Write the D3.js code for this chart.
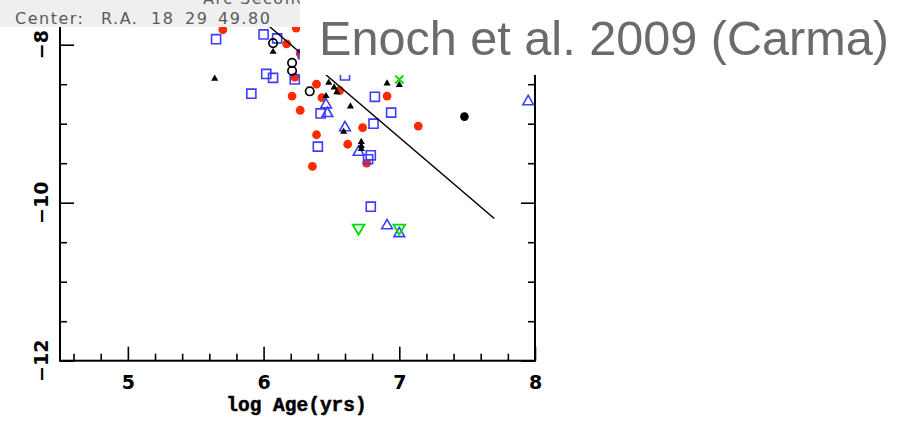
<!DOCTYPE html>
<html>
<head>
<meta charset="utf-8">
<script src="https://cdn.jsdelivr.net/npm/d3@7"></script>
<style>
  body { margin: 0; background: #fff; }
  svg { display: block; }
</style>
</head>
<body>
<svg id="chart" width="905" height="427"></svg>
<script>
// Sources plotted as [log Age (yr), value], one array per symbol class
const redDots = [
  [5.70, -7.81], [6.24, -7.79], [6.17, -7.99], [6.27, -8.11], [6.39, -8.50],
  [6.23, -8.41], [6.21, -8.65], [6.27, -8.83], [6.56, -8.58], [6.43, -8.67],
  [6.91, -8.65], [6.73, -9.05], [7.14, -9.03], [6.39, -9.14], [6.62, -9.26],
  [6.76, -9.50], [6.36, -9.54]
];
const blueSquares = [
  [5.65, -7.93], [6.00, -7.87], [6.10, -7.92], [6.02, -8.37], [6.07, -8.42],
  [6.23, -8.44], [5.91, -8.62], [6.42, -8.87], [6.60, -8.39], [6.82, -8.66],
  [6.94, -8.86], [6.81, -9.00], [6.40, -9.29], [6.79, -9.40], [6.77, -9.45],
  [6.79, -10.05], [6.29, -8.12]
];
const blueTriangles = [
  [6.46, -8.76], [6.47, -8.87], [6.60, -9.05], [6.70, -9.36], [6.91, -10.29],
  [7.00, -10.39], [7.95, -8.72]
];
const blackCircles = [
  [6.07, -7.98], [6.21, -8.23], [6.21, -8.33], [6.34, -8.59]
];
const blackTriangles = [
  [5.64, -8.43], [6.07, -8.09], [6.48, -8.48], [6.52, -8.54], [6.54, -8.60],
  [6.46, -8.65], [6.64, -8.78], [6.91, -8.49], [7.00, -8.51], [6.59, -9.10],
  [6.72, -9.23], [6.72, -9.28], [6.72, -9.32]
];
const blackDots = [[7.48, -8.91]];
const greenDown = [[6.70, -10.32], [7.00, -10.32]];
const greenCross = [[7.00, -8.44]];
// straight-line relation drawn across the points
const fitLine = [[5.90, -7.56], [7.70, -10.20]];

const xMajor = [5, 6, 7, 8];
const xMinor = d3.range(46, 80, 2).map(v => v / 10).filter(v => !Number.isInteger(v));
const yMajor = [-8, -10, -12];
const yMinor = [-7.5, -8.5, -9, -9.5, -10.5, -11, -11.5];
const xLabel = "log Age(yrs)";
const titleText = "Enoch et al. 2009 (Carma)";
const headerTop = "Arc Second";
const headerWords = ["Center:", "R.A.", "18", "29", "49.80"];

const svg = d3.select("#chart");
const x = d3.scaleLinear().domain([4.5, 8]).range([60, 535]);
const y = d3.scaleLinear().domain([-12, -7.6]).range([360.7, 13.1]);

const [x0, x1] = x.range();
const [yb, yt] = y.range();

svg.append("defs").append("clipPath").attr("id", "plotClip")
  .append("rect").attr("x", x0).attr("y", yt).attr("width", x1 - x0).attr("height", yb - yt);

// ---- axes: inward ticks, long majors and short minors ----
const axisFont = "'DejaVu Sans', sans-serif";
function styleAxis(g) {
  g.select(".domain").remove();
  g.selectAll(".tick line").attr("stroke", "#000").attr("stroke-width", 1.6);
}
svg.append("g").attr("transform", `translate(0,${yb})`)
  .call(d3.axisBottom(x).tickValues(xMinor).tickSize(-7).tickFormat(""))
  .call(styleAxis);
const bottomMajor = svg.append("g").attr("transform", `translate(0,${yb})`)
  .call(d3.axisBottom(x).tickValues(xMajor).tickSizeInner(-14).tickSizeOuter(0).tickPadding(15).tickFormat(d3.format("d")))
  .call(styleAxis);
bottomMajor.selectAll(".tick text")
  .attr("font-family", axisFont).attr("font-weight", "bold").attr("font-size", 19).attr("fill", "#000");

svg.append("g").attr("transform", `translate(0,${yt})`)
  .call(d3.axisTop(x).tickValues(xMinor).tickSize(-7).tickFormat("")).call(styleAxis);
svg.append("g").attr("transform", `translate(0,${yt})`)
  .call(d3.axisTop(x).tickValues(xMajor).tickSize(-14).tickFormat("")).call(styleAxis);

svg.append("g").attr("transform", `translate(${x0},0)`)
  .call(d3.axisLeft(y).tickValues(yMinor).tickSize(-7).tickFormat("")).call(styleAxis);
svg.append("g").attr("transform", `translate(${x0},0)`)
  .call(d3.axisLeft(y).tickValues(yMajor).tickSize(-14).tickFormat("")).call(styleAxis);
svg.append("g").attr("transform", `translate(${x1},0)`)
  .call(d3.axisRight(y).tickValues(yMinor).tickSize(-7).tickFormat("")).call(styleAxis);
svg.append("g").attr("transform", `translate(${x1},0)`)
  .call(d3.axisRight(y).tickValues(yMajor).tickSize(-14).tickFormat("")).call(styleAxis);

// rotated value labels on the left axis
svg.append("g").selectAll("text").data(yMajor).join("text")
  .attr("transform", d => `translate(48,${y(d)}) rotate(-90)`)
  .attr("text-anchor", "middle")
  .attr("font-family", axisFont).attr("font-weight", "bold").attr("font-size", 19)
  .text(d => d3.format("d")(d).replace("-", "\u2212"));

// frame
svg.append("rect").attr("x", x0).attr("y", yt).attr("width", x1 - x0).attr("height", yb - yt)
  .attr("fill", "none").attr("stroke", "#000").attr("stroke-width", 2);

svg.append("text")
  .attr("x", (x0 + x1) / 2 - 1).attr("y", 411).attr("text-anchor", "middle")
  .attr("font-family", "'Liberation Mono', monospace").attr("font-weight", "bold").attr("font-size", 19.5)
  .attr("stroke", "#000").attr("stroke-width", 0.5)
  .text(xLabel);

// ---- marks ----
const marks = svg.append("g").attr("clip-path", "url(#plotClip)");
const pos = d => `translate(${x(d[0])},${y(d[1])})`;

marks.append("g").selectAll("circle").data(redDots).join("circle")
  .attr("cx", d => x(d[0])).attr("cy", d => y(d[1])).attr("r", 4.4).attr("fill", "#ff2a00");

marks.append("g").selectAll("path").data(blueSquares).join("path")
  .attr("transform", pos).attr("d", d3.symbol(d3.symbolSquare, 82)())
  .attr("fill", "none").attr("stroke", "#3d3dff").attr("stroke-width", 1.6);

marks.append("g").selectAll("path").data(blueTriangles).join("path")
  .attr("transform", pos).attr("d", d3.symbol(d3.symbolTriangle, 50)())
  .attr("fill", "none").attr("stroke", "#3d3dff").attr("stroke-width", 1.6);

marks.append("g").selectAll("circle").data(blackCircles).join("circle")
  .attr("cx", d => x(d[0])).attr("cy", d => y(d[1])).attr("r", 4.2)
  .attr("fill", "none").attr("stroke", "#000").attr("stroke-width", 1.7);

marks.append("g").selectAll("circle").data(blackDots).join("circle")
  .attr("cx", d => x(d[0])).attr("cy", d => y(d[1])).attr("r", 4.3).attr("fill", "#000");

marks.append("g").selectAll("path").data(greenDown).join("path")
  .attr("transform", d => pos(d) + " rotate(180)").attr("d", d3.symbol(d3.symbolTriangle, 58)())
  .attr("fill", "none").attr("stroke", "#00dd00").attr("stroke-width", 1.9);

marks.append("g").selectAll("path").data(greenCross).join("path")
  .attr("transform", pos).attr("d", "M-4,-4L4,4M4,-4L-4,4")
  .attr("fill", "none").attr("stroke", "#00dd00").attr("stroke-width", 1.9);

marks.append("g").selectAll("path").data(blackTriangles).join("path")
  .attr("transform", pos).attr("d", d3.symbol(d3.symbolTriangle, 22)())
  .attr("fill", "#000");

marks.append("path").datum(fitLine)
  .attr("d", d3.line().x(d => x(d[0])).y(d => y(d[1])))
  .attr("fill", "none").attr("stroke", "#000").attr("stroke-width", 1.5);

// ---- header strip and title box laid over the top of the plot ----
svg.append("rect").attr("x", 0).attr("y", 0).attr("width", 300).attr("height", 27).attr("fill", "#efefef");
const hdrFont = "'DejaVu Sans', sans-serif";
svg.append("text").attr("x", 203).attr("y", 4)
  .attr("font-family", hdrFont).attr("font-size", 16).attr("letter-spacing", 1.5).attr("fill", "#5a5a5a")
  .text(headerTop);
const hdrX = [15, 101, 151, 185, 218];
svg.append("g").selectAll("text").data(headerWords).join("text")
  .attr("x", (d, i) => hdrX[i]).attr("y", 24)
  .attr("font-family", hdrFont).attr("font-size", 16).attr("letter-spacing", 1.5).attr("fill", "#5a5a5a")
  .text(d => d);

svg.append("rect").attr("x", 300).attr("y", 0).attr("width", 605).attr("height", 75).attr("fill", "#fff");
svg.append("text").attr("x", 319).attr("y", 55)
  .attr("font-family", "'Liberation Sans', Arial, sans-serif").attr("font-size", 48.6).attr("fill", "#6b6b6b")
  .text(titleText);
</script>
</body>
</html>
